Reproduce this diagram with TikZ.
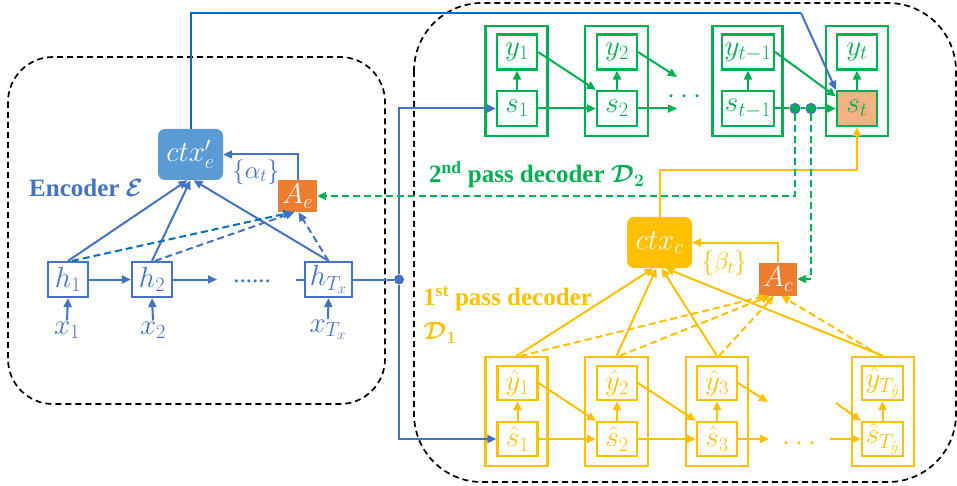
\RequirePackage{fix-cm}
\documentclass[tikz,border=0pt]{standalone}
\usepackage{amsmath,bm}
\usepackage{fontspec}
\setmainfont{Liberation Serif}
\usetikzlibrary{arrows.meta}
\definecolor{eblue}{HTML}{4472C4}
\definecolor{dblue}{HTML}{0070C0}
\definecolor{lblue}{HTML}{5B9BD5}
\definecolor{dgreen}{HTML}{00B050}
\definecolor{dyel}{HTML}{FFC000}
\definecolor{dorange}{HTML}{ED7D31}
\definecolor{lorange}{HTML}{F4B183}
\newcommand{\mfont}{\fontsize{29}{33}\selectfont}
\newcommand{\lfont}{\fontsize{25}{29}\selectfont}
\tikzset{
  border/.style={draw=black, line width=1.7pt, dash pattern=on 6pt off 4pt},
  anybox/.style={draw, line width=2.2pt, inner sep=0pt, minimum width=40pt, minimum height=35pt, font=\mfont},
  ebox/.style={anybox, draw=eblue, text=eblue},
  gbox/.style={anybox, draw=dgreen, text=dgreen},
  ybox/.style={anybox, draw=dyel, text=dyel},
  conn/.style={line width=2pt, -{Triangle[length=9pt,width=8pt]}},
  longdash/.style={dash pattern=on 7pt off 4pt},
  econn/.style={conn, draw=eblue},
  gconn/.style={conn, draw=dgreen},
  yconn/.style={conn, draw=dyel},
  eline/.style={line width=2pt, draw=eblue},
  gline/.style={line width=2pt, draw=dgreen},
  elab/.style={text=eblue, inner sep=1pt, font=\mfont},
  ctxbox/.style={rounded corners=7pt, inner sep=0pt, minimum width=65pt, minimum height=51pt, text=white, font=\mfont},
  attbox/.style={inner sep=0pt, minimum width=39pt, minimum height=33pt, fill=dorange, text=white, font=\mfont},
  jdot/.style={circle, inner sep=0pt, minimum size=10pt},
  title/.style={anchor=west, font=\bfseries\lfont, inner sep=0pt},
}
\begin{document}
\begin{tikzpicture}[x=1pt,y=-1pt]
\useasboundingbox (0,0) rectangle (957,486);
% dashed groups
\draw[border, rounded corners=45pt] (8,57) rectangle (385,404);
\draw[border, rounded corners=68pt] (414,3) rectangle (956,482);

% ---------------- Encoder ----------------
\node[ebox] (h1) at (68,279.5) {$h_1$};
\node[ebox] (h2) at (152,279.5) {$h_2$};
\node[ebox, minimum width=47pt] (hT) at (328.5,279.5) {$h_{T_x}$};
\node[elab] (x1) at (67,330) {$x_1$};
\node[elab] (x2) at (153,330) {$x_2$};
\node[elab] (xT) at (328,330) {$x_{T_x}$};
\node[ctxbox, fill=lblue] (ctxe) at (190.5,154.5) {$ctx'_e$};
\node[attbox, minimum height=32pt] (Ae) at (297.5,196) {$A_e$};
\node[title, text=eblue] (enc) at (29,188) {Encoder $\bm{\mathcal{E}}$};
\node[text=eblue, font=\lfont, inner sep=0pt] (alpha) at (256,172) {$\{\alpha_t\}$};
\node[text=eblue, font=\lfont, anchor=base, inner sep=0pt] (edots) at (252,282) {......};
\coordinate (h2e) at (217,279.5);
\coordinate (hTin) at (296,279.5);

\draw[econn] (x1.north) -- (h1.south);
\draw[econn] (x2.north) -- (h2.south);
\draw[econn] (xT.north) -- (hT.south);
\draw[econn] (h1) -- (h2);
\draw[econn] (h2) -- (h2e);
\draw[eline] (hTin) -- (hT);
\draw[econn] (h1.north) -- ([xshift=-3pt]ctxe.south);
\draw[econn] (h2.north) -- (ctxe.south);
\draw[econn] (hT.north) -- ([xshift=3pt]ctxe.south);
\draw[econn, longdash, draw=dblue] ([xshift=4pt]h1.north) -- ([xshift=-5pt]Ae.south);
\draw[econn, longdash] ([xshift=3pt]h2.north) -- ([xshift=-3pt]Ae.south);
\draw[econn, longdash] (hT.north) -- ([xshift=1pt]Ae.south);
\draw[econn] (Ae.north) |- (ctxe.east);

% junction to decoders
\node[jdot, fill=eblue] (hd) at (399,279.5) {};
\draw[eline] (hT) -- (hd);

% ---------------- 2nd pass decoder ----------------
\node[gbox, minimum width=62pt, minimum height=110pt] (g1) at (516.5,81) {};
\node[gbox, minimum width=63pt, minimum height=110pt] (g2) at (616.5,81) {};
\node[gbox, minimum width=70pt, minimum height=110pt] (gm) at (747.5,81) {};
\node[gbox, minimum width=62pt, minimum height=110pt] (gt) at (857,81) {};
\node[gbox] (y1) at (517,52) {$y_1$};
\node[gbox] (s1) at (517,108.5) {$s_1$};
\node[gbox] (y2) at (617,52) {$y_2$};
\node[gbox] (s2) at (617,108.5) {$s_2$};
\node[gbox, minimum width=52pt] (ytm) at (748,52) {$y_{t-1}$};
\node[gbox, minimum width=52pt] (stm) at (748,108.5) {$s_{t-1}$};
\node[gbox] (yt) at (857,52) {$y_t$};
\node[gbox, fill=lorange] (st) at (857,108.5) {$s_t$};
\node[text=dgreen, font=\mfont, anchor=base, inner sep=0pt] (gdots) at (687,104) {$\cdots$};
\node[jdot, fill=dgreen, draw=eblue, line width=1.2pt] (d1) at (795,108.5) {};
\node[jdot, fill=dgreen, draw=eblue, line width=1.2pt] (d2) at (811,108.5) {};
\node[title, text=dgreen] (lab2) at (429,175) {2\textsuperscript{nd} pass decoder $\bm{\mathcal{D}_2}$};
\coordinate (g2a) at (677,77);
\coordinate (g2b) at (677,108.5);

\draw[gconn] (s1) -- (y1);
\draw[gconn] (s2) -- (y2);
\draw[gconn] (stm) -- (ytm);
\draw[gconn] (st) -- (yt);
\draw[gconn] (s1) -- (s2);
\draw[gconn] (y1.east) -- (s2.north west);
\draw[gconn] (y2.east) -- (g2a);
\draw[gconn] (s2) -- (g2b);
\draw[gconn] (ytm.east) -- ([yshift=12pt]st.west);
\draw[gline] (stm) -- (d1);
\draw[gline] (d1) -- (d2);
\draw[gconn] (d2) -- (st);

% top encoder context line
\coordinate (tcor) at (801,13);
\draw[line width=2pt, draw=dblue] (ctxe.north) |- (tcor);
\draw[econn] (tcor) -- (st.north west);
\draw[econn] (hd) |- (s1);

% ---------------- 1st pass decoder ----------------
\node[ctxbox, fill=dyel] (ctxc) at (659.5,242.5) {$ctx_c$};
\node[attbox, minimum width=38pt] (Ac) at (778,279) {$A_c$};
\node[text=dyel, font=\lfont, inner sep=0pt] (beta) at (724,263) {$\{\beta_t\}$};
\node[title, text=dyel] (lab1) at (423,299) {1\textsuperscript{st} pass decoder};
\node[title, text=dyel] (lab1b) at (423,333) {$\bm{\mathcal{D}_1}$};

\node[ybox, minimum width=62pt, minimum height=109pt] (c1) at (516.5,411.5) {};
\node[ybox, minimum width=63pt, minimum height=109pt] (c2) at (616.5,411.5) {};
\node[ybox, minimum width=62pt, minimum height=109pt] (c3) at (717,411.5) {};
\node[ybox, minimum width=62pt, minimum height=109pt] (cT) at (883,411.5) {};
\node[ybox, minimum height=34pt] (yh1) at (517.5,383) {$\hat{y}_1$};
\node[ybox, minimum height=34pt] (sh1) at (517.5,439) {$\hat{s}_1$};
\node[ybox, minimum height=34pt] (yh2) at (617,383) {$\hat{y}_2$};
\node[ybox, minimum height=34pt] (sh2) at (617,439) {$\hat{s}_2$};
\node[ybox, minimum height=34pt] (yh3) at (717,383) {$\hat{y}_3$};
\node[ybox, minimum height=34pt] (sh3) at (717,439) {$\hat{s}_3$};
\node[ybox, minimum height=34pt, minimum width=41pt] (yhT) at (882.5,383) {$\hat{y}_{T_{\hat{y}}}$};
\node[ybox, minimum height=34pt, minimum width=41pt] (shT) at (882.5,439) {$\hat{s}_{T_{\hat{y}}}$};
\node[text=dyel, font=\mfont, anchor=base, inner sep=0pt] (ydots) at (802,450) {$\cdots$};
\coordinate (y3a) at (768,402);
\coordinate (y3b) at (769,439);
\coordinate (yTa) at (836,403);
\coordinate (yTb) at (830,439);

\draw[yconn] (sh1) -- (yh1);
\draw[yconn] (sh2) -- (yh2);
\draw[yconn] (sh3) -- (yh3);
\draw[yconn] (shT) -- (yhT);
\draw[yconn] (sh1) -- (sh2);
\draw[yconn] (sh2) -- (sh3);
\draw[yconn] (sh3) -- (y3b);
\draw[yconn] (yTb) -- (shT);
\draw[yconn] (yh1.east) -- (sh2.north west);
\draw[yconn] (yh2.east) -- (sh3.north west);
\draw[yconn] (yh3.east) -- (y3a);
\draw[yconn] (yTa) -- (shT.north west);

\draw[yconn] (c1.north) -- ([xshift=-6pt]ctxc.south);
\draw[yconn] (c2.north) -- ([xshift=-3pt]ctxc.south);
\draw[yconn] (c3.north) -- ([xshift=2pt]ctxc.south);
\draw[yconn] (cT.north) -- ([xshift=6pt]ctxc.south);
\draw[yconn, longdash] ([xshift=4pt]c1.north) -- ([xshift=-11pt]Ac.south);
\draw[yconn, longdash] ([xshift=3pt]c2.north) -- ([xshift=-8pt]Ac.south);
\draw[yconn, longdash] ([xshift=2pt]c3.north) -- ([xshift=-4pt]Ac.south);
\draw[yconn, longdash] ([xshift=-2pt]cT.north) -- ([xshift=3pt]Ac.south);
\draw[yconn] (Ac.north) |- (ctxc.east);

\coordinate (yb) at (659.5,170);
\draw[yconn] (ctxc) -- (yb) -| (st);
\draw[econn] (hd) |- (sh1);

% attention feedback from 2nd pass
\draw[gconn, longdash] (d1) |- (Ae);
\draw[gconn, longdash] (d2) |- (Ac);
\end{tikzpicture}
\end{document}
